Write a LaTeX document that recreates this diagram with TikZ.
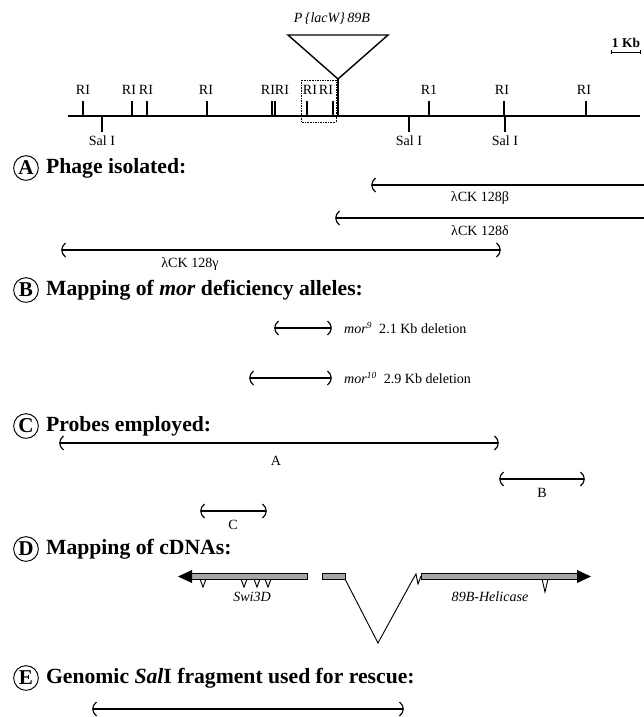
\documentclass[tikz,border=0pt]{standalone}
\usepackage{fontspec}
\setmainfont{Liberation Serif}
\usetikzlibrary{arrows.meta,positioning}
\tikzset{site/.style={font=\fontsize{12}{14}\selectfont,inner sep=0pt}}
\tikzset{head/.style={font=\fontsize{18.5}{22}\selectfont\bfseries,inner sep=0pt}}
\tikzset{tag/.style={circle,draw,line width=0.8pt,inner sep=0pt,minimum size=0.74cm,font=\fontsize{18}{20}\selectfont\bfseries}}
\tikzset{lcap/.pic={\draw[line width=1pt] (3.5,-7) .. controls (-1.5,-3) and (-1.5,3) .. (3.5,7);}}
\tikzset{rcap/.pic={\draw[line width=1pt] (-3.5,-7) .. controls (1.5,-3) and (1.5,3) .. (-3.5,7);}}
\tikzset{seg/.style={line width=1.3pt}}
\tikzset{cdna/.style={draw,line width=0.6pt,fill=gray!70}}

\begin{document}
\begin{tikzpicture}[x=0.03cm,y=-0.03cm]
   \useasboundingbox (0,0) rectangle (644,717);
   \coordinate (gl) at (68,116);
   \coordinate (gr) at (640,116);
   \draw[line width=1.3pt] (gl) -- (gr);
   \foreach \x in {83,132,147,207,272,275,307,333,429,504,586}
      \draw[line width=1pt] (\x,116) -- (\x,101);
   \foreach \x/\n in {83/r1,129/r2,146/r3,206/r4,268/r5,282/r6,310/r7,326/r8,502/r10,584/r11}
      \node[site] (\n) at (\x,90) {RI};
   \node[site] (r9) at (429,90) {R1};
   \foreach \x/\n in {102/s1,409/s2,505/s3} {
      \draw[line width=1pt] (\x,116) -- (\x,132);
      \node[site] (\n) at (\x,141) {Sal I};
   }
   \coordinate (tl) at (288,35);
   \coordinate (tr) at (388,35);
   \coordinate (ta) at (338,79);
   \coordinate (tb) at (338,116);
   \draw[line width=1.2pt] (tl) -- (tr) -- (ta) -- cycle;
   \draw[line width=1.2pt] (ta) -- (tb);
   \node[site] (pw) at (332,19) {\textit{P\,\{lacW\}\,89B}};
   \draw[densely dotted] (301,80) rectangle (336,122);
   \node[site,font=\fontsize{11.5}{13}\selectfont\bfseries] (kb) at (626,43) {1 Kb};
   \coordinate (k1) at (611,52);
   \coordinate (k2) at (641,52);
   \draw[line width=0.8pt,{Bar[width=4pt]}-{Bar[width=4pt]}] (k1) -- (k2);

   \node[tag] (A) at (26,168) {A};
   \node[head,right=6pt of A] (ha) {Phage isolated:};
   \coordinate (b1) at (372,185);
   \coordinate (b2) at (644,185);
   \draw[seg] (b1) pic {lcap} -- (b2);
   \node[site] (lb) at (480,198) {λCK 128β};
   \coordinate (d1) at (336,218);
   \coordinate (d2) at (644,218);
   \draw[seg] (d1) pic {lcap} -- (d2);
   \node[site] (ld) at (480,231) {λCK 128δ};
   \coordinate (g1) at (62,250);
   \coordinate (g2) at (500,250);
   \draw[seg] (g1) pic {lcap} -- (g2) pic {rcap};
   \node[site] (lg) at (190,264) {λCK 128γ};

   \node[tag] (B) at (26,290) {B};
   \node[head,right=6pt of B] (hb) {Mapping of \textit{mor} deficiency alleles:};
   \coordinate (m1) at (275,328);
   \coordinate (m2) at (331,328);
   \draw[seg] (m1) pic {lcap} -- (m2) pic {rcap};
   \node[site,anchor=west] (l9) at (344,328) {\textit{mor}\textsuperscript{\textit{9}}\enspace 2.1 Kb deletion};
   \coordinate (n1) at (250,378);
   \coordinate (n2) at (331,378);
   \draw[seg] (n1) pic {lcap} -- (n2) pic {rcap};
   \node[site,anchor=west] (l10) at (344,378) {\textit{mor}\textsuperscript{\textit{10}}\enspace 2.9 Kb deletion};

   \node[tag] (C) at (26,426) {C};
   \node[head,right=6pt of C] (hc) {Probes employed:};
   \coordinate (pa1) at (60,443);
   \coordinate (pa2) at (498,443);
   \draw[seg] (pa1) pic {lcap} -- (pa2) pic {rcap};
   \node[site] (la) at (276,461) {A};
   \coordinate (pb1) at (500,479);
   \coordinate (pb2) at (584,479);
   \draw[seg] (pb1) pic {lcap} -- (pb2) pic {rcap};
   \node[site] (lpb) at (542,493) {B};
   \coordinate (pc1) at (201,511);
   \coordinate (pc2) at (266,511);
   \draw[seg] (pc1) pic {lcap} -- (pc2) pic {rcap};
   \node[site] (lpc) at (233,525) {C};

   \node[tag] (D) at (26,549) {D};
   \node[head,right=6pt of D] (hd) {Mapping of cDNAs:};
   \draw[cdna] (190,573.5) rectangle (307,579.5);
   \fill (192,570) -- (178,576.5) -- (192,583) -- cycle;
   \foreach \x in {203,244,257,268}
      \draw[line width=0.8pt] (\x-3,579) -- (\x,587) -- (\x+3,579);
   \draw[cdna] (322,573.5) rectangle (345,579.5);
   \coordinate (v1) at (345,579);
   \coordinate (va) at (378,643);
   \coordinate (v2) at (413,579);
   \draw[line width=0.8pt] (v1) -- (va) -- (v2);
   \draw[line width=0.8pt] (v2) -- (416,574) -- (418,584) -- (421,576);
   \draw[cdna] (421,573.5) rectangle (578,579.5);
   \draw[line width=0.8pt] (542,579) -- (545,592) -- (548,579);
   \fill (577,570) -- (591,576.5) -- (577,583) -- cycle;
   \node[site] (sw) at (252,597) {\textit{Swi3D}};
   \node[site] (he) at (490,597) {\textit{89B-Helicase}};

   \node[tag] (E) at (26,678) {E};
   \node[head,right=6pt of E] (he2) {Genomic \textit{Sal}I fragment used for rescue:};
   \coordinate (e1) at (93,709);
   \coordinate (e2) at (403,709);
   \draw[seg,line width=1.6pt] (e1) pic {lcap} -- (e2) pic {rcap};
\end{tikzpicture}
\end{document}
